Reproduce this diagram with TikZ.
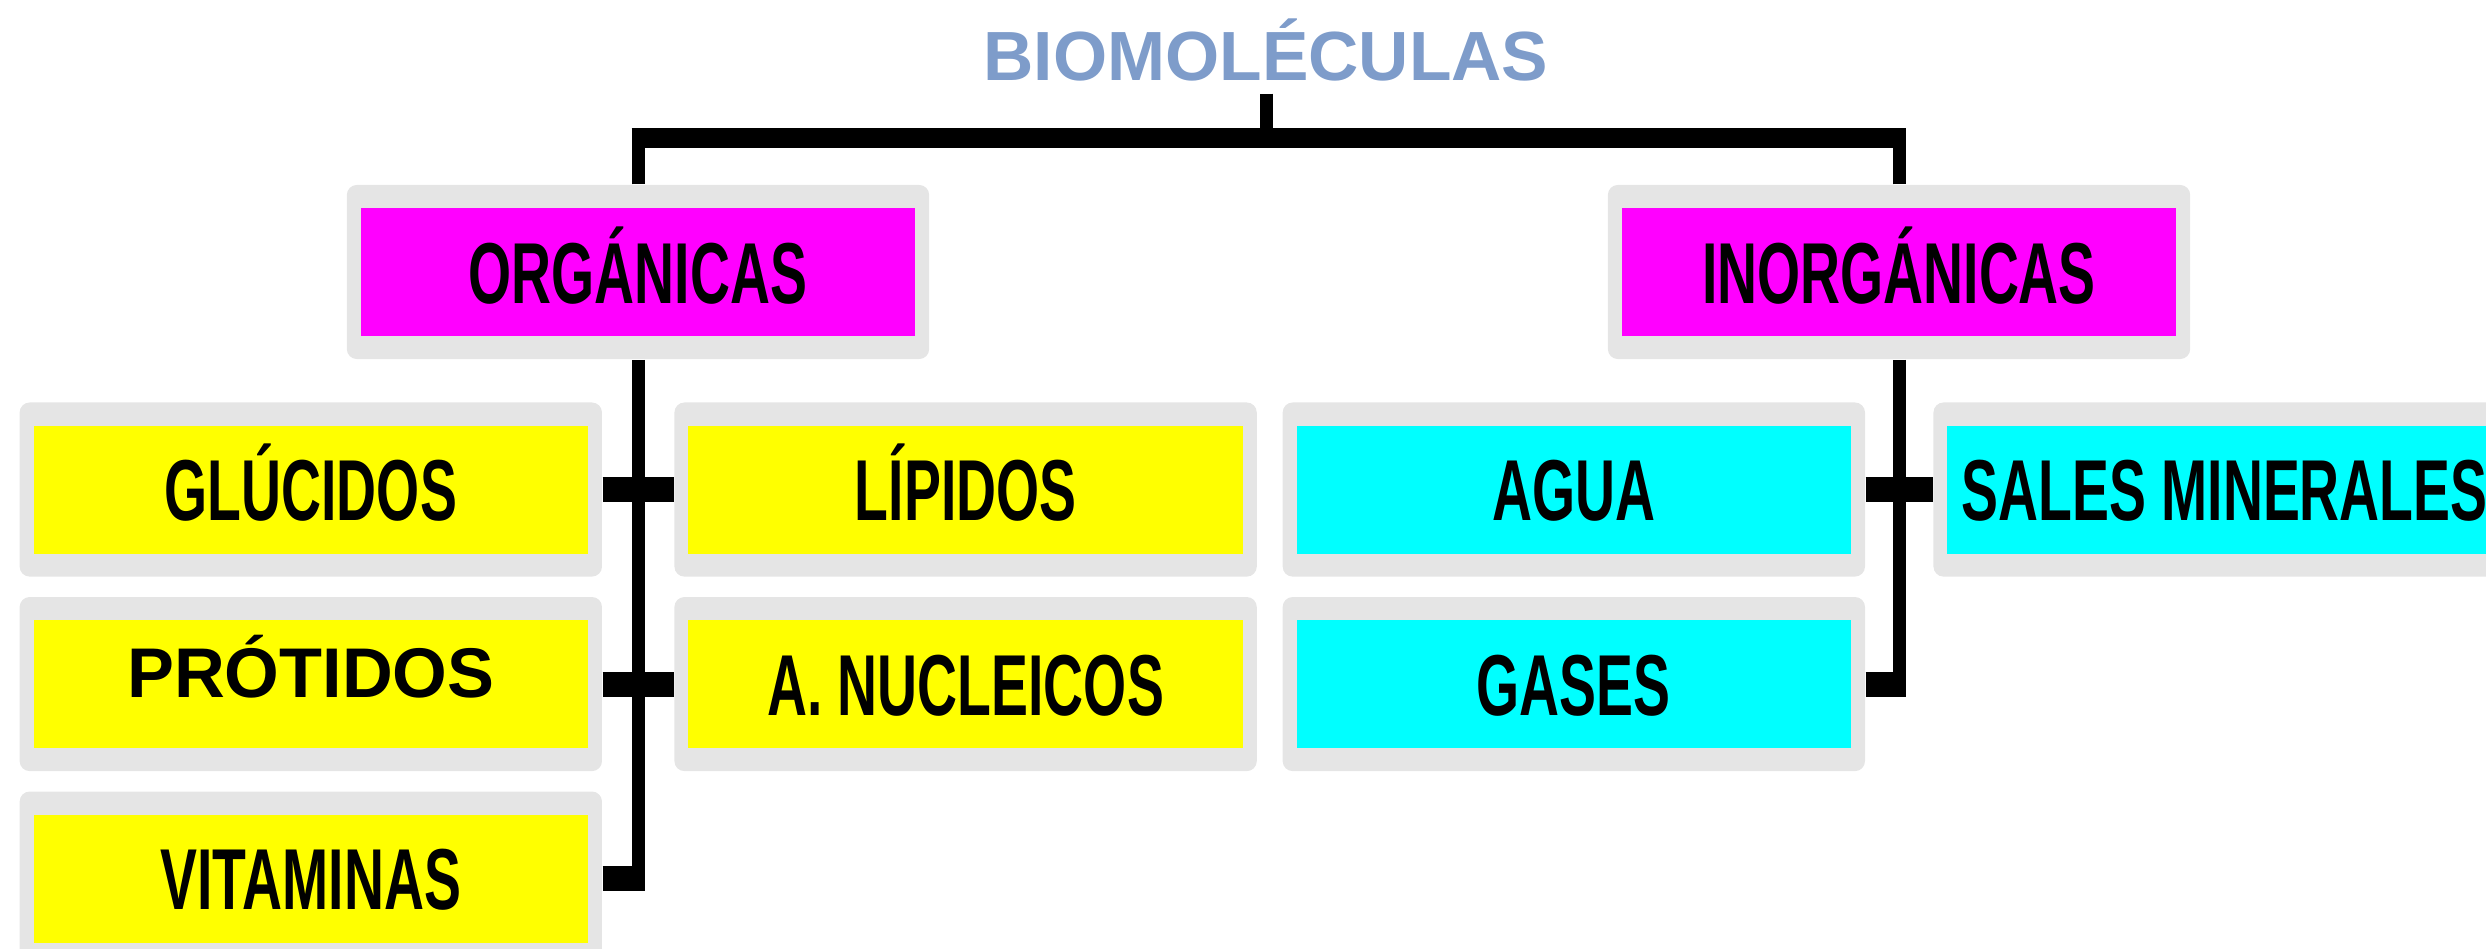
\documentclass[tikz,border=0pt]{standalone}
\usepackage{fontspec}
\setmainfont{Liberation Sans}
\newfontfamily\narrowfont[FakeStretch=0.64]{Liberation Sans}
\usetikzlibrary{positioning}
\definecolor{titleblue}{RGB}{126,156,202}
\definecolor{framegray}{RGB}{229,229,229}
\definecolor{groupfill}{RGB}{255,0,255}
\definecolor{organicfill}{RGB}{255,255,0}
\definecolor{mineralfill}{RGB}{0,255,255}
\tikzset{box/.style={rectangle, rounded corners=0.1cm, minimum width=5.82cm, minimum height=1.74cm, inner sep=0pt, fill=framegray, text height=0.62cm, text depth=0pt, font=\narrowfont\bfseries\fontsize{24.6}{26}\selectfont,
  path picture={\fill[#1, sharp corners] ([xshift=0.14cm,yshift=0.23cm]path picture bounding box.south west) rectangle ([xshift=-0.14cm,yshift=-0.23cm]path picture bounding box.north east);}}}
\tikzstyle{group} = [box=groupfill]
\tikzstyle{organic} = [box=organicfill]
\tikzstyle{mineral} = [box=mineralfill]
\tikzstyle{widefont} = [font=\bfseries\fontsize{20}{22}\selectfont, text height=0.26cm]
\tikzstyle{heading} = [font=\bfseries\fontsize{19.8}{22}\selectfont, text=titleblue, text height=0.5cm, text depth=0pt, inner xsep=0pt, inner ysep=0.13cm]
\tikzstyle{link} = [line width=0.13cm]
\tikzstyle{bus} = [line width=0.2cm]
\tikzstyle{tee} = [line width=0.25cm]

\begin{document}
\begin{tikzpicture}[x=0.01cm, y=-0.01cm, node distance=0.19cm]
\useasboundingbox (0,0) rectangle (2486,948);
\clip (0,0) rectangle (2486,948);

\node (title) [heading] at (1266,55) {BIOMOLÉCULAS};
\coordinate (bar) at (0,138);

\node (org) [group] at (638,272) {ORGÁNICAS};
\node (inorg) [group] at (1899,272) {INORGÁNICAS};

\node (glu) [organic, below=0.42cm of org, xshift=-3.27cm] {GLÚCIDOS};
\node (pro) [organic, widefont, below=of glu] {PRÓTIDOS};
\node (vit) [organic, below=of pro] {VITAMINAS};
\node (lip) [organic, right=0.71cm of glu] {LÍPIDOS};
\node (nuc) [organic, right=0.71cm of pro] {A. NUCLEICOS};

\node (agua) [mineral, below=0.42cm of inorg, xshift=-3.25cm] {AGUA};
\node (gases) [mineral, below=of agua] {GASES};
\node (sales) [mineral, right=0.71cm of agua, xshift=-0.04cm] {SALES MINERALES};

\draw [link] (title.south) -- (title.south |- bar);
\draw [bus, shorten <=-0.065cm, shorten >=-0.065cm] (org.north |- bar) -- (inorg.north |- bar);
\draw [link] (org.north) -- (org.north |- bar);
\draw [link] (inorg.north) -- (inorg.north |- bar);

\draw [link] (org.south) |- (vit.east);
\draw [tee] (glu) -- (lip);
\draw [tee] (pro) -- (nuc);
\draw [tee, shorten >=-0.065cm] (vit.east) -- (vit.east -| org.south);

\draw [link] (inorg.south) |- (gases.east);
\draw [tee] (agua) -- (sales);
\draw [tee, shorten >=-0.065cm] (gases.east) -- (gases.east -| inorg.south);

\end{tikzpicture}
\end{document}
